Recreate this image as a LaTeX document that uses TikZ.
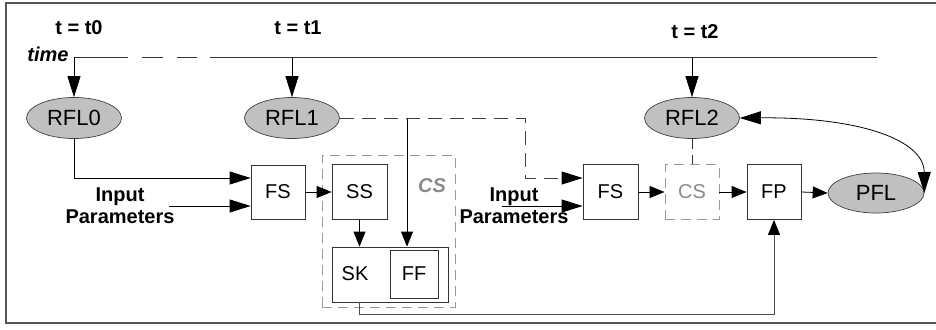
\documentclass[tikz,border=0pt]{standalone}
\usepackage{fontspec}
\setmainfont{Liberation Sans}
\usetikzlibrary{arrows.meta,shapes.geometric,calc}

\definecolor{flgray}{HTML}{C0C0C0}
\definecolor{dashgray}{HTML}{999999}
\definecolor{labgray}{HTML}{8A8A8A}
\definecolor{framegray}{HTML}{555555}

\begin{document}
\begin{tikzpicture}[x=1pt,y=-1pt,
  every node/.style={inner sep=0pt},
  fl/.style={ellipse,draw=black!75,fill=flgray,minimum width=95pt,minimum height=41pt,
             font=\fontsize{22}{26}\selectfont,line width=0.7pt},
  blk/.style={draw=black!80,fill=white,minimum width=55pt,minimum height=55pt,
              font=\fontsize{20}{24}\selectfont,line width=0.8pt},
  csbox/.style={draw=dashgray,dash pattern=on 10pt off 6pt,line width=0.9pt},
  lbl/.style={font=\bfseries\fontsize{20}{22}\selectfont},
  arrL/.style={-{Triangle[length=21pt,width=13pt,color=black]}},
  arrS/.style={-{Triangle[length=15pt,width=12pt,color=black]}},
  line width=0.8pt]

\useasboundingbox (0,0) rectangle (936,329);

% outer frame
\draw[framegray,line width=1.2pt] (936,3) -- (6,3) -- (6,323) -- (936,323);

% time axis and its labels
\coordinate (tl0) at (74,57);
\coordinate (tl1) at (292,57);
\coordinate (tl2) at (692,57);
\coordinate (tlend) at (877,57);
\draw[black!80,dash pattern=on 54pt off 14pt on 21pt off 14pt on 20pt off 13pt on 700pt] (tl0) -- (tlend);
\node[lbl,anchor=base east] (time) at (69,62) {\itshape time};
\node[lbl,anchor=base] (t0) at (79,35) {t = t0};
\node[lbl,anchor=base] (t1) at (298,35) {t = t1};
\node[lbl,anchor=base] (t2) at (695,38) {t = t2};

% field ellipses
\node[fl] (rfl0) at (74,118) {RFL0};
\node[fl] (rfl1) at (292,118) {RFL1};
\node[fl] (rfl2) at (692,118) {RFL2};
\node[fl,minimum width=96pt,minimum height=40pt] (pfl) at (876,193) {PFL};

% coupled step block
\node[csbox,minimum width=133pt,minimum height=152pt] (csbig) at (388.5,231) {};
\node[font=\bfseries\itshape\fontsize{20}{22}\selectfont,text=labgray,anchor=base] (cslbl) at (432,192) {CS};
\node[blk] (ss) at (359.5,192) {SS};
\node[blk,minimum width=116pt] (sk) at (390,274.5) {};
\node[font=\fontsize{20}{24}\selectfont] (sktxt) at (355,274) {SK};
\node[blk,minimum width=48pt,minimum height=48pt] (ff) at (414,274) {FF};

% other blocks
\node[blk,minimum width=54pt,minimum height=54pt] (fs1) at (278,192) {FS};
\node[blk] (fs2) at (610.5,192) {FS};
\node[csbox,minimum width=54pt,minimum height=55pt,text=labgray,font=\fontsize{20}{24}\selectfont] (cs2) at (692,192) {CS};
\node[blk,minimum width=54pt] (fp) at (774,192) {FP};

% input parameter labels
\node[lbl,align=center] (inp1) at (120,206) {Input\\Parameters};
\node[lbl,align=center] (inp2) at (514,206) {Input\\Parameters};
\coordinate (in1) at (169,206);
\coordinate (in2) at (502,206);

% time axis to fields
\draw[arrL] (tl0) -- (rfl0.north);
\draw[arrL] (tl1) -- (rfl1.north);
\draw[arrL] (tl2) -- (rfl2.north);

% first step
\draw[arrL] (rfl0.south) |- ($(fs1.west)+(0,-14)$);
\draw[arrL] (in1) -- (in1 -| fs1.west);
\draw[arrS] (fs1.east) -- (ss.west);
\draw[arrS] (ss.south) -- (ss.south |- sk.north);
\coordinate (tap) at (407,118);
\draw[arrS] (tap) -- (tap |- sk.north);

% second step
\coordinate (bend) at (525,178);
\draw[arrL,black!75,dash pattern=on 14pt off 8pt] (rfl1.east) -| (bend) -- ($(fs2.west)+(0,-14)$);
\draw[arrL] (in2) -- (in2 -| fs2.west);
\draw[arrS] (fs2.east) -- (cs2.west);
\draw[black!80,dash pattern=on 10pt off 6pt] (rfl2.south) -- (cs2.north);
\draw[arrS] (cs2.east) -- (fp.west);
\draw[arrS] (fp.east) -- (pfl.west);
\draw[arrS,black!70] (ss.south |- sk.south) -- ++(0,12) -| (fp.south);

% exchange between RFL2 and PFL
\draw[{Triangle[length=21pt,width=13pt]}-{Triangle[length=21pt,width=13pt]}]
  (rfl2.east) .. controls (860,117) and (924,140) .. (pfl.east);
\end{tikzpicture}
\end{document}
